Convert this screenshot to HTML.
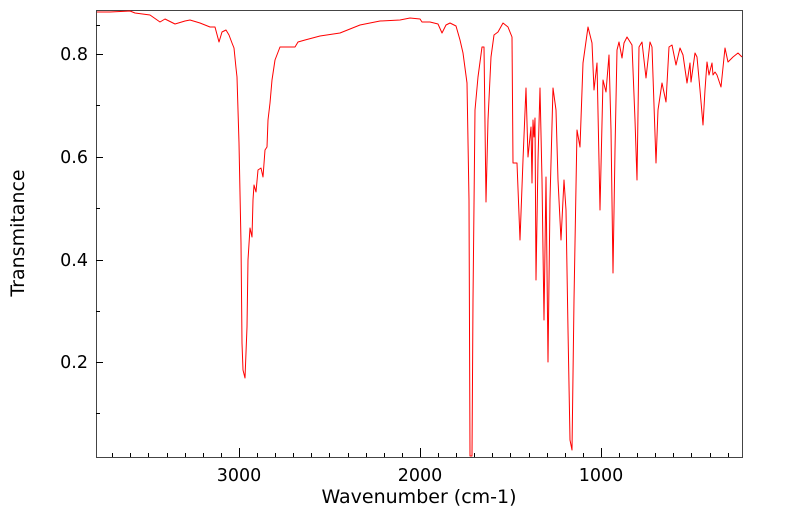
<!DOCTYPE html>
<html><head><style>body{margin:0;background:#fff}svg{display:block}</style></head><body>
<svg width="799" height="516" xmlns="http://www.w3.org/2000/svg" font-family="DejaVu Sans, Liberation Sans, sans-serif">
<rect width="799" height="516" fill="#fff"/>
<g stroke="#000" stroke-width="1">
<rect x="96.5" y="10.5" width="646" height="447" fill="none" stroke="#444"/>
<path d="M239.5,457v-9M420.5,457v-9M601.5,457v-9
M96,54.5h7M96,157.5h7M96,260.5h7M96,362.5h7
M96,105.5h4M96,208.5h4M96,311.5h4M96,413.5h4M96,25.5h4"/>
<path d="M112.5,457v-4M130.5,457v-4M148.5,457v-4M167.5,457v-4M185.5,457v-4M203.5,457v-4M221.5,457v-4M257.5,457v-4M275.5,457v-4M293.5,457v-4M311.5,457v-4M329.5,457v-4M348.5,457v-4M366.5,457v-4M384.5,457v-4M402.5,457v-4M438.5,457v-4M456.5,457v-4M474.5,457v-4M492.5,457v-4M510.5,457v-4M529.5,457v-4M547.5,457v-4M565.5,457v-4M583.5,457v-4M619.5,457v-4M637.5,457v-4M655.5,457v-4M673.5,457v-4M691.5,457v-4M710.5,457v-4M728.5,457v-4"/>
</g>
<g font-size="17.5" fill="#000" text-anchor="middle">
<text x="239" y="481">3000</text><text x="420" y="481">2000</text><text x="601" y="481">1000</text>
<text x="419" y="503" font-size="19">Wavenumber (cm-1)</text>
</g>
<g font-size="17.5" fill="#000" text-anchor="end">
<text x="88" y="60">0.8</text><text x="88" y="163">0.6</text><text x="88" y="266">0.4</text><text x="88" y="368">0.2</text>
</g>
<text transform="translate(24,233) rotate(-90)" font-size="19" text-anchor="middle">Transmitance</text>
<polyline fill="none" stroke="#f00" stroke-width="1" stroke-linejoin="round" points="
97,12 110,12 130,11 135,13 150,15 160,22 165,19 175,24 185,21 190,20 200,23 210,27 215,27 219,42 222,32 226,30 229,35 232,43 234,48 236,68 237,77 239,143 241,243 242,343 243,370 245,378 247,327 248,260 250,228 252,237 253,200 254,185 256,192 258,170 261,168 263,177 265,150 267,147 268,120 270,103 272,80 275,60 280,47 287,47 295,47 298,42 305,40 320,36 340,33 360,25 380,21 400,20 410,18 420,19 422,22 430,22 438,24 442,33 446,25 450,23 456,26 460,40 463,53 467,83 469,200 470,456 472,456 473,300 475,110 478,77 482,47 484,47 486,202 488,120 491,57 494,35 498,32 503,23 508,27 512,37 513,163 517,163 520,240 523,160 526,88 528,157 531,127 532,183 533,120 534,137 535,118 536,280 538,160 540,88 542,180 544,320 546,177 548,362 550,200 553,88 556,110 558,180 561,240 564,180 566,210 568,330 570,440 572,450 574,300 577,130 580,147 583,63 588,27 592,43 594,90 597,63 600,210 603,80 606,92 609,55 611,130 613,273 615,150 617,50 619,42 622,58 624,43 627,37 632,45 635,120 637,180 639,47 642,42 646,78 650,42 652,47 656,163 658,110 662,83 666,102 669,47 672,45 676,65 680,48 683,55 687,83 690,63 691,82 695,53 697,57 700,90 703,125 705,90 707,62 709,75 712,63 713,75 715,72 717,75 721,87 725,48 728,62 733,57 738,53 742,57"/>
</svg>
</body></html>
